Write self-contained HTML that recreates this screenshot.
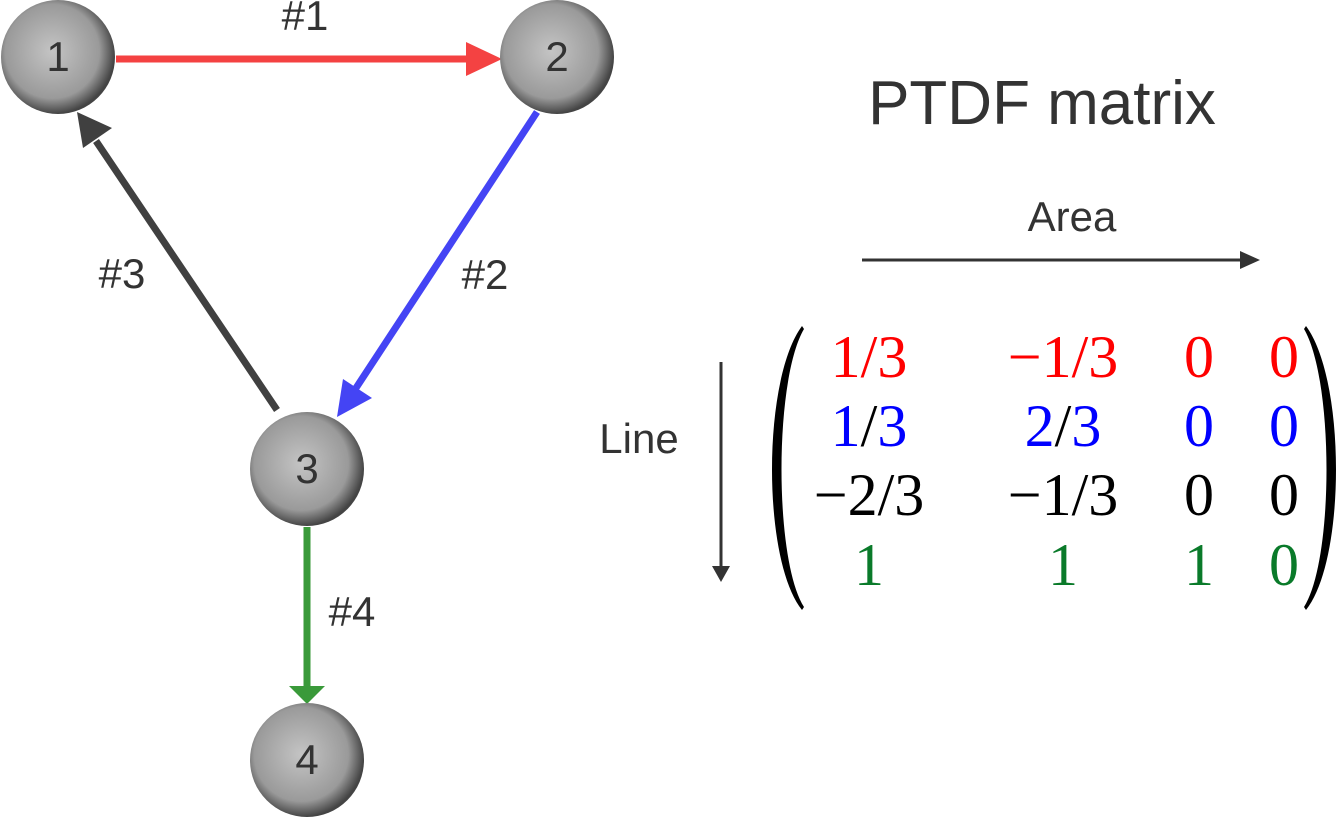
<!DOCTYPE html>
<html><head><style>body{margin:0;background:#fff}</style></head><body>
<svg width="1338" height="817" viewBox="0 0 1338 817" xmlns="http://www.w3.org/2000/svg">
<defs>
<radialGradient id="g" cx="0.45" cy="0.45" r="0.55">
<stop offset="0" stop-color="#c4c4c4"/><stop offset="0.75" stop-color="#9a9a9a"/><stop offset="1" stop-color="#444"/>
</radialGradient>
</defs>
<g stroke-width="7">
<line x1="116" y1="59" x2="472" y2="59" stroke="#f44242"/>
<polygon points="502,59 466,42 466,76" fill="#f44242"/>
<line x1="537" y1="112" x2="356" y2="388" stroke="#4444f4"/>
<polygon points="337,417 343,379 372,398" fill="#4444f4"/>
<line x1="277" y1="410" x2="96" y2="141" stroke="#404040"/>
<polygon points="77,112 112,128 83,148" fill="#404040"/>
<line x1="307" y1="527" x2="307" y2="690" stroke="#3a9a3a"/>
<polygon points="307,704 289,686 325,686" fill="#3a9a3a"/>
</g>
<g fill="url(#g)">
<circle cx="58" cy="57" r="57"/><circle cx="557" cy="57" r="57"/>
<circle cx="307" cy="469" r="57"/><circle cx="307" cy="760" r="57"/>
</g>
<g font-family="Liberation Sans, sans-serif" fill="#333" font-size="42" text-anchor="middle">
<text x="58" y="71">1</text><text x="557" y="71">2</text>
<text x="307" y="483">3</text><text x="307" y="774">4</text>
<text x="305" y="30">#1</text><text x="485" y="289">#2</text>
<text x="122" y="288">#3</text><text x="352" y="626">#4</text>
<text x="1042" y="124" font-size="62">PTDF matrix</text>
<text x="1072" y="231" font-size="42">Area</text>
<text x="639" y="453" font-size="42">Line</text>
</g>
<line x1="862" y1="260" x2="1242" y2="260" stroke="#333" stroke-width="3"/>
<polygon points="1260,260 1240,251 1240,269" fill="#333"/>
<line x1="721" y1="362" x2="721" y2="568" stroke="#333" stroke-width="3"/>
<polygon points="721,582 712,566 730,566" fill="#333"/>
<path d="M802,326 C762,380 762,560 802,610 L804,607 C774,560 774,380 804,329Z" fill="#000"/>
<path d="M1306,326 C1346,380 1346,560 1306,610 L1304,607 C1334,560 1334,380 1304,329Z" fill="#000"/>
<g font-family="Liberation Serif, serif" font-size="60" text-anchor="middle">
<g fill="#f00"><text x="869" y="377">1/3</text><text x="1063" y="377">−1/3</text><text x="1199" y="377">0</text><text x="1284" y="377">0</text></g>
<g fill="#00f"><text x="869" y="446">1<tspan fill="#000">/</tspan>3</text><text x="1063" y="446">2<tspan fill="#000">/</tspan>3</text><text x="1199" y="446">0</text><text x="1284" y="446">0</text></g>
<g fill="#000"><text x="869" y="515">−2/3</text><text x="1063" y="515">−1/3</text><text x="1199" y="515">0</text><text x="1284" y="515">0</text></g>
<g fill="#0a7a2a"><text x="869" y="585">1</text><text x="1063" y="585">1</text><text x="1199" y="585">1</text><text x="1284" y="585">0</text></g>
</g>
</svg>
</body></html>
